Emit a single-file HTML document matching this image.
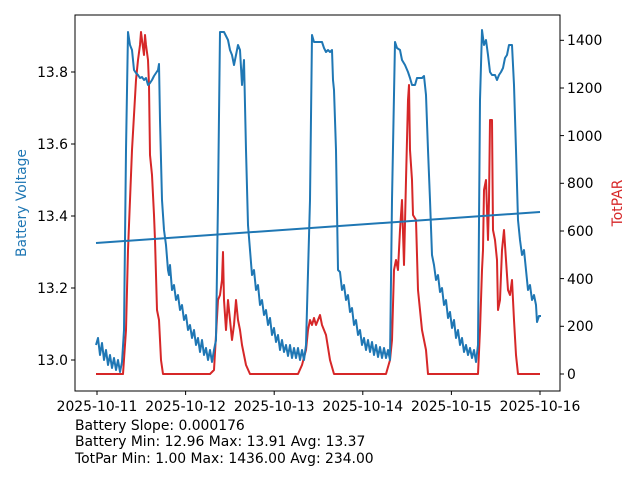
<!DOCTYPE html>
<html><head><meta charset="utf-8"><style>
body{margin:0;background:#fff}
svg{display:block;font-family:"DejaVu Sans","Liberation Sans",sans-serif;font-size:13.9px}
</style></head><body>
<svg width="640" height="480" viewBox="0 0 640 480">
<rect width="640" height="480" fill="#fff"/>
<g fill="none" stroke-linejoin="round" stroke-width="2">
<polyline stroke="#d62728" points="96,374 123,374 126,330 128,250 132,150 136,80 138,60 140,45 141,32 142,40 144,55 145,35 146,45 148,60 149,85 150,155 152,175 154,215 155,240 157,310 159,320 161,360 163,374 210,374 214,370 218,300 220,295 222,280 223,252 224,300 226,330 228,300 230,320 232,340 234,325 236,300 238,320 240,330 242,345 246,365 250,374 298,374 302,365 306,350 308,330 310,320 312,325 314,318 316,325 318,320 320,315 322,325 326,335 330,360 334,374 386,374 390,360 392,340 394,270 396,260 398,270 400,230 402,200 404,265 406,180 408,100 409,85 410,150 412,180 413,215 416,220 418,290 422,330 426,350 428,374 478,374 480,330 482,270 483,250 484,190 486,180 488,240 489,200 490,120 492,120 493,230 495,240 497,260 498,310 500,300 502,250 504,230 506,260 508,290 510,295 512,280 514,320 516,355 518,374 540,374"/>
<polyline stroke="#1f77b4" points="96,345 98,338 100,355 102,343 104,360 106,350 108,365 110,355 112,368 114,358 116,370 118,360 120,372 122,362 124,330 126,150 128,32 130,45 132,50 134,70 136,73 138,75 140,78 142,77 144,80 146,78 148,85 150,83 152,80 154,76 156,73 158,70 159,64 160,120 162,200 164,230 166,245 168,270 169,275 170,265 172,290 174,285 176,300 178,295 180,310 182,305 184,320 186,315 188,330 190,325 192,338 194,330 196,345 198,338 200,352 202,340 204,355 206,348 208,360 210,350 212,362 214,350 216,340 218,200 220,32 224,32 228,40 230,50 232,55 234,65 236,55 238,45 240,50 242,85 244,60 246,150 248,225 250,250 252,275 254,270 256,290 258,285 260,305 262,300 264,315 266,310 268,325 270,318 272,335 274,328 276,342 278,335 280,350 282,340 284,352 286,345 288,356 290,345 292,358 294,348 296,358 298,348 300,360 302,350 304,360 306,345 310,200 312,35 314,42 322,42 324,48 326,52 328,50 330,52 332,50 333,80 334,90 336,150 338,270 340,272 342,290 344,285 346,300 348,295 350,312 352,308 354,325 356,320 358,335 360,330 362,345 364,338 366,350 368,340 370,352 372,342 374,355 376,345 378,357 380,347 382,358 384,348 386,358 388,350 390,360 392,200 395,42 397,48 400,50 402,60 405,65 408,72 410,78 412,85 415,85 417,78 422,78 424,76 426,95 428,150 430,200 432,255 434,265 436,280 438,275 440,292 442,288 444,305 446,300 448,318 450,312 452,328 454,320 456,338 458,330 460,345 462,338 464,352 466,345 468,355 470,348 472,358 474,350 476,362 478,345 480,100 482,30 484,45 486,40 488,55 490,72 492,75 495,75 497,80 499,75 501,72 503,68 505,58 507,55 509,45 512,45 514,85 516,150 518,220 520,240 522,255 524,250 526,270 528,290 530,285 532,300 534,295 536,305 537,322 539,316 541,316"/>
<line x1="96" y1="243" x2="540" y2="212" stroke="#1f77b4"/>
</g>
<rect x="75" y="15" width="485" height="376" fill="none" stroke="#000" stroke-width="1"/>
<g stroke="#000" stroke-width="1">
<line x1="71" y1="360" x2="75" y2="360"/><line x1="71" y1="288" x2="75" y2="288"/><line x1="71" y1="216" x2="75" y2="216"/><line x1="71" y1="144" x2="75" y2="144"/><line x1="71" y1="72" x2="75" y2="72"/>
<line x1="560" y1="374" x2="564" y2="374"/><line x1="560" y1="326.3" x2="564" y2="326.3"/><line x1="560" y1="278.6" x2="564" y2="278.6"/><line x1="560" y1="231" x2="564" y2="231"/><line x1="560" y1="183.3" x2="564" y2="183.3"/><line x1="560" y1="135.6" x2="564" y2="135.6"/><line x1="560" y1="88" x2="564" y2="88"/><line x1="560" y1="40.3" x2="564" y2="40.3"/>
<line x1="97" y1="391" x2="97" y2="395"/><line x1="185.6" y1="391" x2="185.6" y2="395"/><line x1="274.2" y1="391" x2="274.2" y2="395"/><line x1="362.8" y1="391" x2="362.8" y2="395"/><line x1="451.4" y1="391" x2="451.4" y2="395"/><line x1="540" y1="391" x2="540" y2="395"/>
</g>
<g text-anchor="end" fill="#000">
<text x="68" y="365">13.0</text><text x="68" y="293">13.2</text><text x="68" y="221">13.4</text><text x="68" y="149">13.6</text><text x="68" y="77">13.8</text>
</g>
<g fill="#000">
<text x="567" y="379">0</text><text x="567" y="331">200</text><text x="567" y="284">400</text><text x="567" y="236">600</text><text x="567" y="188">800</text><text x="567" y="141">1000</text><text x="567" y="93">1200</text><text x="567" y="45">1400</text>
</g>
<g text-anchor="middle" fill="#000">
<text x="97" y="411">2025-10-11</text><text x="185.6" y="411">2025-10-12</text><text x="274.2" y="411">2025-10-13</text><text x="362.8" y="411">2025-10-14</text><text x="451.4" y="411">2025-10-15</text><text x="540" y="411">2025-10-16</text>
</g>
<text transform="translate(26,203) rotate(-90)" text-anchor="middle" fill="#1f77b4">Battery Voltage</text>
<text transform="translate(622,203) rotate(-90)" text-anchor="middle" fill="#d62728">TotPAR</text>
<g fill="#000">
<text x="75" y="430">Battery Slope: 0.000176</text>
<text x="75" y="446">Battery Min: 12.96 Max: 13.91 Avg: 13.37</text>
<text x="75" y="463">TotPar Min: 1.00 Max: 1436.00 Avg: 234.00</text>
</g>
</svg>
</body></html>
